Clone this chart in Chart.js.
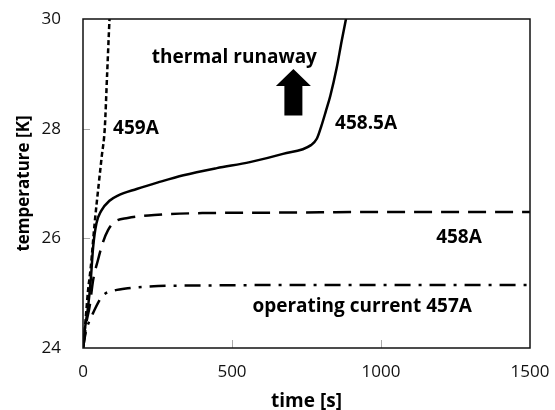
<!DOCTYPE html>
<html>
<head>
<meta charset="utf-8">
<script src="https://cdn.jsdelivr.net/npm/chart.js@4.4.0/dist/chart.umd.min.js"></script>
<style>
  html, body { margin: 0; padding: 0; background: #fff; }
  #wrap { width: 555px; height: 410px; }
</style>
</head>
<body>
<div id="wrap"><canvas id="tempChart" width="555" height="410"></canvas></div>
<script>
// time [s] and temperature [K], one pair of arrays per current
const time459 = [0, 3, 10, 17, 26, 39, 53, 63, 73, 81, 89, 92];
const temp459 = [24, 24.15, 24.6, 25.05, 25.47, 26.27, 27.0, 27.5, 28.0, 29.0, 30.0, 30.3];

const time4585 = [0, 6, 17, 26, 34, 45, 61, 90, 117, 180, 252, 337, 449, 560, 671, 765, 785, 800, 815, 830, 851, 868, 881, 890];
const temp4585 = [24, 24.33, 24.75, 25.24, 25.84, 26.27, 26.5, 26.69, 26.78, 26.9, 27.02, 27.15, 27.28, 27.39, 27.54, 27.7, 27.82, 28.05, 28.32, 28.6, 29.1, 29.6, 29.96, 30.2];

const time458 = [0, 3, 11, 22, 34, 50, 67, 84, 106, 150, 252, 400, 700, 1000, 1500];
const temp458 = [24, 24.1, 24.45, 24.75, 25.24, 25.6, 25.93, 26.15, 26.3, 26.37, 26.43, 26.46, 26.47, 26.48, 26.48];

const time457 = [0, 3, 11, 22, 34, 50, 67, 106, 150, 252, 400, 700, 1000, 1500];
const temp457 = [24, 24.1, 24.33, 24.5, 24.64, 24.82, 24.96, 25.05, 25.09, 25.13, 25.14, 25.15, 25.15, 25.15];

const xTicks = [0, 500, 1000, 1500];
const yTicks = [24, 26, 28, 30];

// annotation texts, anchored in data units
const noteText = ["459A", "458.5A", "458A", "operating current 457A", "thermal runaway"];
const noteTime = [101, 846, 1185, 1305, 508];
const noteTemp = [28.0, 28.09, 26.02, 24.76, 29.29];
const noteAlign = ["left", "left", "left", "right", "center"];

// the up arrow: base and tip in data units
const arrowTime = 706;
const arrowBottom = 28.24;
const arrowTop = 29.09;
const arrowHeadBase = 28.78;

function pts(xs, ys) {
    return xs.map((x, i) => ({ x: x, y: ys[i] }));
}

const FONT = "'Open Sans', 'Noto Sans', sans-serif";

// box round the plot, inside ticks, notes and the arrow
const decorations = {
    id: 'decorations',
    afterDraw(chart) {
        const ctx = chart.ctx;
        const a = chart.chartArea;
        const xs = chart.scales.x;
        const ys = chart.scales.y;
        ctx.save();

        // inside tick marks
        ctx.strokeStyle = '#aaa';
        ctx.lineWidth = 1;
        yTicks.slice(1, -1).forEach(v => {
            const y = Math.round(ys.getPixelForValue(v)) + 0.5;
            ctx.beginPath(); ctx.moveTo(a.left, y); ctx.lineTo(a.left + 7, y); ctx.stroke();
        });
        xTicks.slice(1, -1).forEach(v => {
            const x = Math.round(xs.getPixelForValue(v)) + 0.5;
            ctx.beginPath(); ctx.moveTo(x, a.bottom); ctx.lineTo(x, a.bottom - 8); ctx.stroke();
        });

        // frame
        ctx.strokeStyle = '#111';
        ctx.lineWidth = 1.5;
        ctx.strokeRect(a.left, a.top, a.right - a.left, a.bottom - a.top);

        // notes
        ctx.fillStyle = '#000';
        ctx.font = "bold 19px " + FONT;
        ctx.textBaseline = 'middle';
        noteText.forEach((t, i) => {
            ctx.textAlign = noteAlign[i];
            ctx.fillText(t, xs.getPixelForValue(noteTime[i]), ys.getPixelForValue(noteTemp[i]));
        });

        // arrow
        const cx = xs.getPixelForValue(arrowTime);
        const yb = ys.getPixelForValue(arrowBottom);
        const yt = ys.getPixelForValue(arrowTop);
        const yh = ys.getPixelForValue(arrowHeadBase);
        ctx.beginPath();
        ctx.moveTo(cx - 9, yb);
        ctx.lineTo(cx - 9, yh);
        ctx.lineTo(cx - 17.5, yh);
        ctx.lineTo(cx, yt);
        ctx.lineTo(cx + 17.5, yh);
        ctx.lineTo(cx + 9, yh);
        ctx.lineTo(cx + 9, yb);
        ctx.closePath();
        ctx.fill();

        ctx.restore();
    }
};

const lineStyle = {
    borderColor: '#000',
    borderWidth: 2.5,
    pointRadius: 0,
    fill: false,
    cubicInterpolationMode: 'monotone'
};

new Chart(document.getElementById('tempChart').getContext('2d'), {
    type: 'line',
    data: {
        datasets: [
            Object.assign({ label: '459A', data: pts(time459, temp459), borderDash: [5, 3] }, lineStyle),
            Object.assign({ label: '458.5A', data: pts(time4585, temp4585) }, lineStyle),
            Object.assign({ label: '458A', data: pts(time458, temp458), borderDash: [18, 9] }, lineStyle),
            Object.assign({ label: '457A', data: pts(time457, temp457), borderDash: [16, 8, 3, 8] }, lineStyle)
        ]
    },
    options: {
        responsive: false,
        animation: false,
        layout: { padding: { top: 19, right: 25, left: 0, bottom: 0 } },
        plugins: {
            legend: { display: false },
            tooltip: { enabled: false }
        },
        scales: {
            x: {
                type: 'linear',
                min: 0,
                max: 1500,
                afterBuildTicks: s => { s.ticks = xTicks.map(v => ({ value: v })); },
                afterFit: s => { s.height = 62; s.paddingLeft = 0; s.paddingRight = 0; },
                grid: { display: false, drawTicks: false },
                border: { display: false },
                ticks: { color: '#111', font: { family: FONT, size: 17 }, padding: 14, maxRotation: 0, callback: v => String(v) },
                title: {
                    display: true,
                    text: 'time [s]',
                    color: '#000',
                    font: { family: FONT, size: 19, weight: 'bold' },
                    padding: { top: 0, bottom: -3 }
                }
            },
            y: {
                min: 24,
                max: 30,
                afterBuildTicks: s => { s.ticks = yTicks.map(v => ({ value: v })); },
                afterFit: s => { s.width = 83; s.paddingTop = 0; s.paddingBottom = 0; },
                grid: { display: false, drawTicks: false },
                border: { display: false },
                ticks: { color: '#111', font: { family: FONT, size: 17 }, padding: 22, callback: v => String(v) },
                title: {
                    display: true,
                    text: 'temperature [K]',
                    color: '#000',
                    font: { family: FONT, size: 17, weight: 'bold' },
                    padding: { top: 14, bottom: 0 }
                }
            }
        }
    },
    plugins: [decorations]
});
</script>
</body>
</html>
